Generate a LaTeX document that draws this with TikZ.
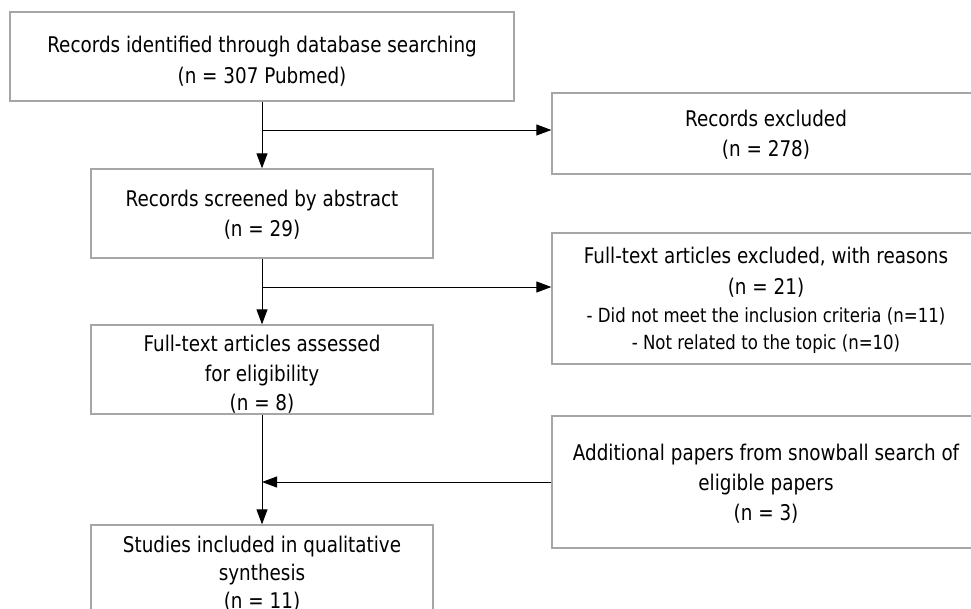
\documentclass[tikz,border=0pt]{standalone}
\usepackage{fontspec}
\setmainfont{DejaVu Sans}[FakeStretch=0.85]
\usetikzlibrary{arrows.meta,calc}
\tikzset{
  box/.style={draw=black!35, line width=1.3pt, inner sep=0pt},
  txt/.style={inner sep=0pt, align=center, text=black,
    font=\fontsize{21.6}{30.5}\selectfont},
  arr/.style={draw=black, line width=1pt, -{Triangle[length=15pt,width=11pt]}}
}
\newcommand{\smalltxt}{\fontsize{19.5}{27}\selectfont}
\begin{document}
\begin{tikzpicture}[x=1pt,y=-1pt]
\useasboundingbox (0,0) rectangle (971,608);
\clip (0,0) rectangle (971,608);
% boxes
\node[box, minimum width=504pt, minimum height=89pt] (top) at (262,56.5) {};
\node[box, minimum width=428pt, minimum height=81pt] (excl) at (766,133.5) {};
\node[box, minimum width=342pt, minimum height=89pt] (screen) at (262,213.5) {};
\node[box, minimum width=428pt, minimum height=131pt] (ftex) at (766,298.5) {};
\node[box, minimum width=342pt, minimum height=89pt] (assess) at (262,369.5) {};
\node[box, minimum width=428pt, minimum height=132pt] (snow) at (766,482) {};
\node[box, minimum width=342pt, minimum height=95pt] (stud) at (262,572.5) {};
% texts
\node[txt] (ttop) at (262,61.4)
  {Records identified through database searching\\(n = 307 Pubmed)};
\node[txt] (texcl) at (766,134.5) {Records excluded\\(n = 278)};
\node[txt] (tscreen) at (262,214.5) {Records screened by abstract\\(n = 29)};
\node[txt] (tftex) at (766,300.3)
  {Full-text articles excluded, with reasons\\[0.5pt](n = 21)\\[-3.3pt]
   {\smalltxt - Did not meet the inclusion criteria (n=11)}\\[-3.5pt]
   {\smalltxt - Not related to the topic (n=10)}};
\node[txt] (tassess) at (262,374.6)
  {Full-text articles assessed\\[-1pt]for eligibility\\[-1pt](n = 8)};
\node[txt] (tsnow) at (766,484.2)
  {Additional papers from snowball search of\\[-0.5pt]eligible papers\\[-0.5pt](n = 3)};
\node[txt] (tstud) at (262,574.2)
  {Studies included in qualitative\\[-2.5pt]synthesis\\[-2.5pt](n = 11)};
% connectors
\coordinate (b1) at (262,130);
\coordinate (b2) at (262,287);
\draw[arr] (top.south) -- (screen.north);
\draw[arr] (b1) -- (b1 -| excl.west);
\draw[arr] (screen.south) -- (assess.north);
\draw[arr] (b2) -- (b2 -| ftex.west);
\draw[arr] (assess.south) -- (stud.north);
\draw[arr] (snow.west) -- (snow.west -| assess.south);
\end{tikzpicture}
\end{document}
